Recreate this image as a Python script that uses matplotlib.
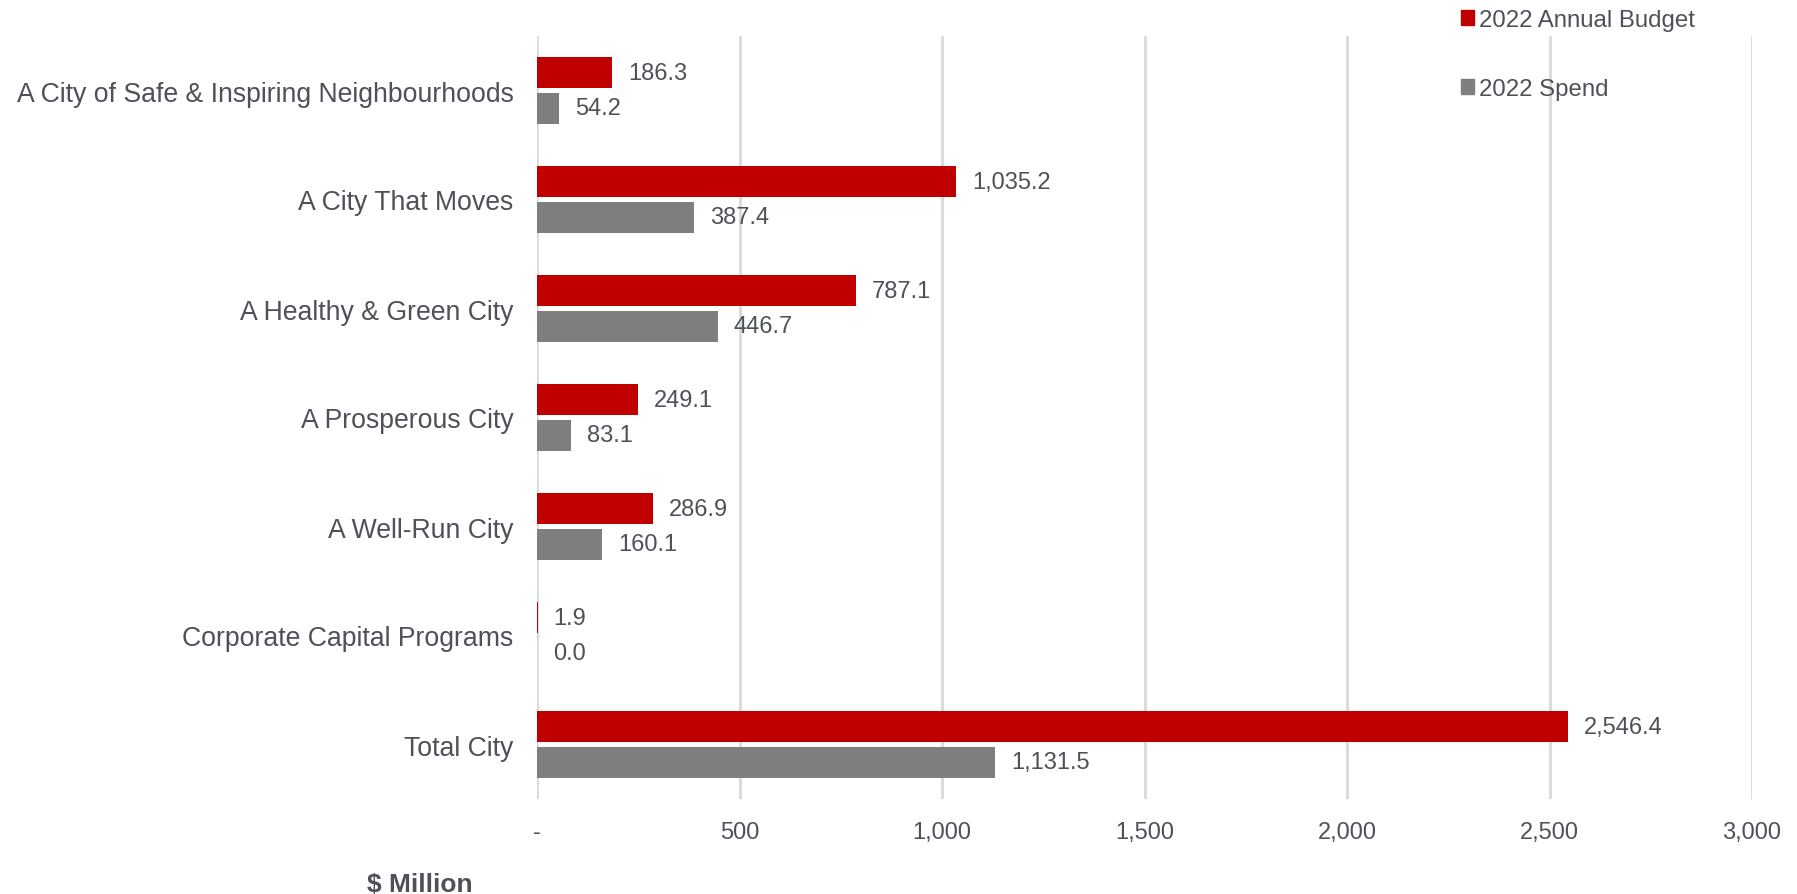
import numpy as np
import matplotlib.pyplot as plt
from matplotlib.patches import Patch

plt.rcParams['font.family'] = ['Liberation Sans', 'DejaVu Sans']

# Datos del gráfico
categories = ['A City of Safe & Inspiring Neighbourhoods', 'A City That Moves',
              'A Healthy & Green City', 'A Prosperous City', 'A Well-Run City',
              'Corporate Capital Programs', 'Total City']
budget = [186.3, 1035.2, 787.1, 249.1, 286.9, 1.9, 2546.4]
spend = [54.2, 387.4, 446.7, 83.1, 160.1, 0.0, 1131.5]
xticks = [0, 500, 1000, 1500, 2000, 2500, 3000]
xtick_labels = ['-', '500', '1,000', '1,500', '2,000', '2,500', '3,000']

RED = '#C00000'
GRAY = '#7F7F7F'
TXT = '#4E5159'

fig = plt.figure(figsize=(17.97, 8.95), dpi=100)
ax = fig.add_axes([537 / 1797, 1 - 800 / 895, (1752 - 537) / 1797, (800 - 37) / 895])

y = np.arange(len(categories))
h = 0.28
off = 0.163
b1 = ax.barh(y - off, budget, height=h, color=RED, label='2022 Annual Budget')
b2 = ax.barh(y + off, spend, height=h, color=GRAY, label='2022 Spend')

# Etiquetas de valores
for bars in (b1, b2):
    ax.bar_label(bars, labels=[f'{v:,.1f}' for v in bars.datavalues],
                 padding=11.5, fontsize=17, color=TXT)

ax.set_ylim(len(categories) - 0.5, -0.5)
ax.set_xlim(0, 3000)
ax.set_yticks(y)
ax.set_yticklabels(categories, fontsize=19.2, color=TXT)
ax.set_xticks(xticks)
ax.set_xticklabels(xtick_labels, fontsize=17, color=TXT)
ax.tick_params(axis='y', length=0, pad=17)
ax.tick_params(axis='x', length=0, pad=16)
ax.grid(axis='x', color='#D9D9D9', lw=2)
ax.set_axisbelow(True)
for s in ax.spines.values():
    s.set_visible(False)

handles = [Patch(color=RED, label='2022 Annual Budget'),
           Patch(color=GRAY, label='2022 Spend')]
fig.legend(handles=handles, loc='upper left', bbox_to_anchor=(1439 / 1797, 1.013),
           frameon=False, fontsize=17.3, labelcolor=TXT, handlelength=0.55,
           handleheight=0.55, handletextpad=0.2, labelspacing=1.95)

fig.text(367 / 1797, 1 - 885 / 895, '$ Million', fontsize=19, fontweight='bold',
         color=TXT, va='center', ha='left')

fig.savefig('out.png', dpi=100)
